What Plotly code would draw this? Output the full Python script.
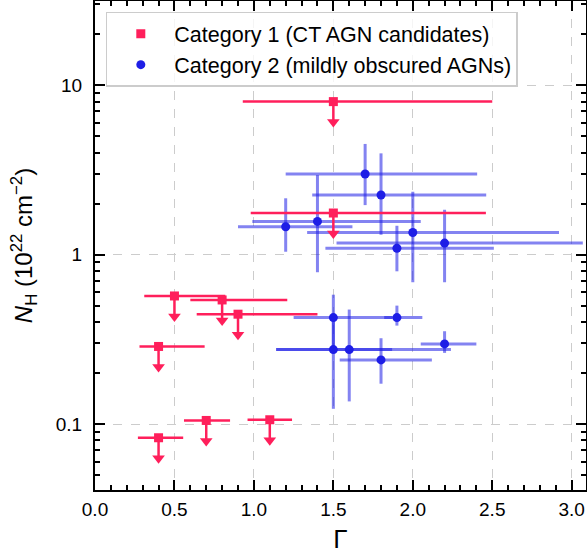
import numpy as np
import plotly.graph_objects as go

# ---- Data ----
cat1_gamma = [1.5, 1.5, 0.5, 0.8, 0.9, 0.4, 0.7, 1.1, 0.4]
cat1_nh = [8.0, 1.76, 0.57, 0.54, 0.445, 0.287, 0.105, 0.106, 0.083]
cat1_gamma_lo = [0.93, 0.98, 0.31, 0.60, 0.64, 0.28, 0.56, 0.96, 0.27]
cat1_gamma_hi = [2.50, 2.46, 0.82, 1.21, 1.40, 0.69, 0.85, 1.24, 0.555]

cat2_gamma = [1.70, 1.80, 1.20, 1.40, 2.00, 2.20, 1.90, 1.50, 1.50, 1.60, 1.90, 2.20, 1.80]
cat2_nh = [2.99, 2.25, 1.46, 1.57, 1.35, 1.17, 1.09, 0.425, 0.275, 0.275, 0.425, 0.297, 0.239]
cat2_gamma_lo = [1.20, 1.367, 0.90, 0.99, 1.335, 1.52, 1.45, 1.25, 1.14, 1.14, 1.82, 2.05, 1.54]
cat2_gamma_hi = [2.405, 2.462, 1.62, 2.05, 2.92, 3.07, 2.51, 1.87, 1.87, 2.24, 2.06, 2.40, 2.12]
cat2_nh_lo = [1.96, 1.31, 1.04, 0.787, 0.687, 0.687, 0.797, 0.275, 0.123, 0.136, 0.381, 0.263, 0.173]
cat2_nh_hi = [4.50, 3.96, 2.15, 2.95, 2.35, 1.84, 1.48, 0.58, 0.425, 0.474, 0.50, 0.353, 0.321]

x_ticks = [0.0, 0.5, 1.0, 1.5, 2.0, 2.5, 3.0]
y_ticks = [0.1, 1, 10]
y_ticklabels = ["0.1", "1", "10"]

RED = "#FF1F5B"
BLUE = "#1E1EE6"
BLUE_ERR = "rgba(30,30,230,0.55)"
FONT = "Liberation Sans, Arial, Helvetica, sans-serif"
ARROW_FACTOR = 0.757  # upper-limit arrow head position (fraction of value)

g1 = np.array(cat1_gamma); n1 = np.array(cat1_nh)
g2 = np.array(cat2_gamma); n2 = np.array(cat2_nh)
tip = n1 * ARROW_FACTOR

fig = go.Figure()

fig.add_trace(go.Scatter(
    x=g2, y=n2, mode="markers", name="Category 2 (mildly obscured AGNs)",
    marker=dict(symbol="circle", size=9, color=BLUE),
    error_x=dict(type="data", symmetric=False,
                 array=np.array(cat2_gamma_hi) - g2,
                 arrayminus=g2 - np.array(cat2_gamma_lo),
                 color=BLUE_ERR, thickness=3, width=0),
    error_y=dict(type="data", symmetric=False,
                 array=np.array(cat2_nh_hi) - n2,
                 arrayminus=n2 - np.array(cat2_nh_lo),
                 color=BLUE_ERR, thickness=3, width=0),
    legendrank=2,
))

fig.add_trace(go.Scatter(
    x=g1, y=tip, mode="markers", showlegend=False, hoverinfo="skip",
    marker=dict(symbol="triangle-down", size=11, color=RED),
))

fig.add_trace(go.Scatter(
    x=g1, y=n1, mode="markers", name="Category 1 (CT AGN candidates)",
    marker=dict(symbol="square", size=9, color=RED),
    error_x=dict(type="data", symmetric=False,
                 array=np.array(cat1_gamma_hi) - g1,
                 arrayminus=g1 - np.array(cat1_gamma_lo),
                 color=RED, thickness=2.5, width=0),
    error_y=dict(type="data", symmetric=False,
                 array=np.zeros_like(n1),
                 arrayminus=n1 - tip,
                 color=RED, thickness=2.5, width=0),
    legendrank=1,
))

axis_common = dict(
    showline=True, linecolor="black", linewidth=2, mirror="allticks",
    ticks="inside", ticklen=10, tickwidth=2, tickcolor="black",
    showgrid=True, gridcolor="#cccccc", griddash="dash", gridwidth=1.2,
    zeroline=False, tickfont=dict(size=19, color="black", family=FONT),
    automargin=False,
)

fig.update_xaxes(
    **axis_common, range=[0, 3.09], tickvals=x_ticks,
    ticktext=[f"{v:.1f}" for v in x_ticks], ticklabelstandoff=1,
    minor=dict(ticks="inside", ticklen=5, tickwidth=1.5, tickcolor="black",
               dtick=0.1, tick0=0, showgrid=False),
    title=dict(text="Γ", font=dict(size=26, color="black", family=FONT), standoff=13),
)
fig.update_yaxes(
    **axis_common, type="log", range=[np.log10(0.0408), np.log10(31.4)],
    tickvals=y_ticks, ticktext=y_ticklabels, ticklabelstandoff=7,
    minor=dict(ticks="inside", ticklen=5, tickwidth=1.5, tickcolor="black",
               dtick="D1", showgrid=False),
    title=dict(text="<i>N</i><sub>H</sub> (10<sup>22</sup> cm<sup>−2</sup>)",
               font=dict(size=24, color="black", family=FONT), standoff=16),
)

fig.update_layout(
    width=587, height=554,
    margin=dict(l=95, r=1, t=1, b=64, autoexpand=False),
    plot_bgcolor="white", paper_bgcolor="white",
    font=dict(family=FONT, color="black"),
    legend=dict(x=0.022, y=0.978, xanchor="left", yanchor="top",
                bgcolor="rgba(255,255,255,0.8)", bordercolor="#cccccc",
                borderwidth=1.5, font=dict(size=21.5, family=FONT, color="black"),
                itemwidth=57, tracegroupgap=0),
    showlegend=True,
)

fig.write_html(
    "out.html",
    config={"displayModeBar": False},
    post_script="document.body.style.margin='0px';document.body.style.overflow='hidden';",
)
